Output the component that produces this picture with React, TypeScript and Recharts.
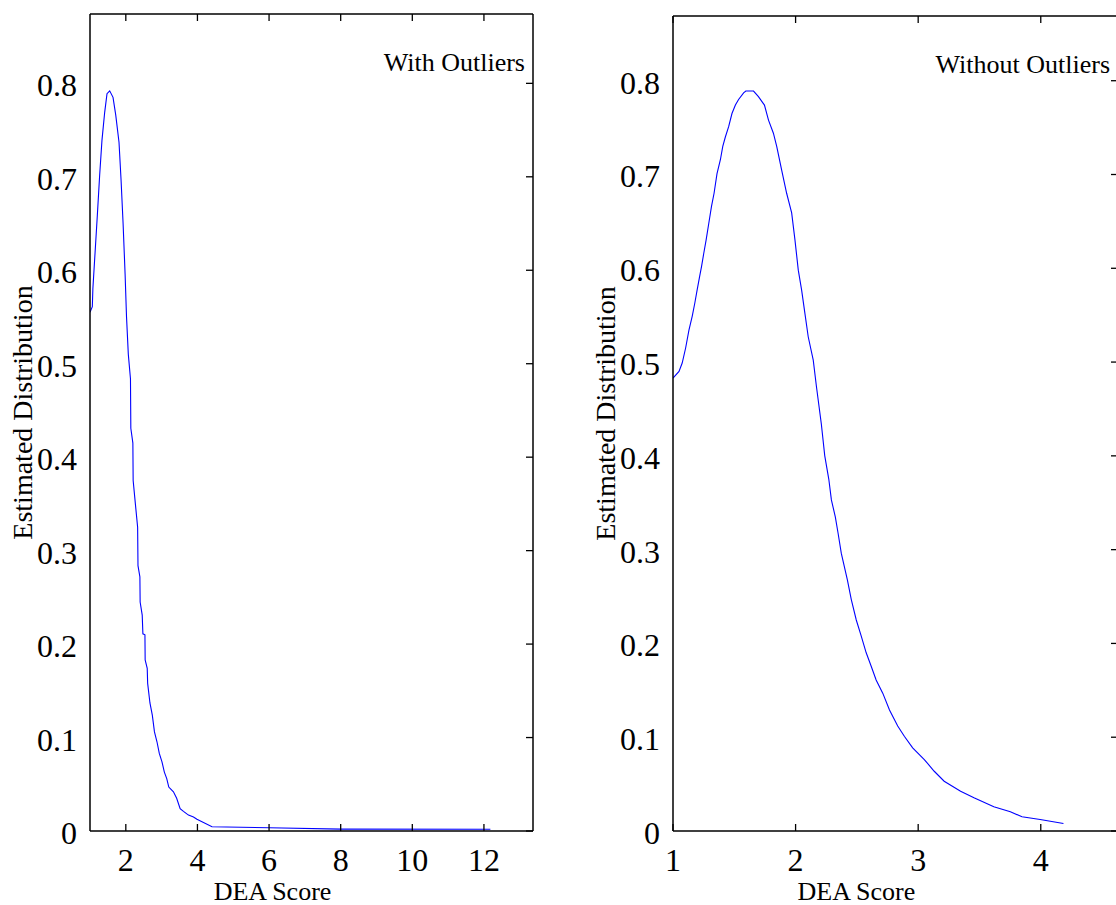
import { LineChart, Line, XAxis, YAxis } from 'recharts'

// DEA score / estimated density
const withOutliersScore = [
  1.0, 1.065, 1.08, 1.14, 1.205, 1.27, 1.334, 1.41, 1.475, 1.55, 1.643, 1.719, 1.81, 1.868, 1.924,
  1.98, 2.02, 2.07, 2.13, 2.14, 2.197, 2.205, 2.267, 2.33, 2.34, 2.393, 2.4, 2.458, 2.477, 2.534,
  2.54, 2.598, 2.61, 2.674, 2.74, 2.8, 2.87, 2.935, 3.01, 3.076, 3.143, 3.2, 3.33, 3.42, 3.517,
  3.61, 3.75, 3.89, 3.986, 4.407, 6.0, 8.01, 12.18,
]
const withOutliersDensity = [
  0.555, 0.561, 0.58, 0.618, 0.659, 0.702, 0.739, 0.769, 0.789, 0.792, 0.785, 0.766, 0.737, 0.696, 0.65,
  0.596, 0.55, 0.51, 0.484, 0.431, 0.415, 0.375, 0.35, 0.325, 0.284, 0.272, 0.245, 0.231, 0.211, 0.21,
  0.183, 0.174, 0.158, 0.137, 0.124, 0.106, 0.0955, 0.083, 0.074, 0.063, 0.056, 0.047, 0.042, 0.035, 0.024,
  0.021, 0.017, 0.015, 0.0125, 0.0046, 0.0035, 0.002, 0.0018,
]

const withoutOutliersScore = [
  1.0, 1.049, 1.075, 1.103, 1.13, 1.157, 1.178, 1.197, 1.217, 1.233, 1.251, 1.27, 1.292, 1.314, 1.335,
  1.359, 1.387, 1.406, 1.427, 1.454, 1.481, 1.509, 1.535, 1.576, 1.594, 1.657, 1.697, 1.746, 1.779, 1.819,
  1.846, 1.886, 1.927, 1.968, 1.995, 2.022, 2.049, 2.076, 2.103, 2.144, 2.17, 2.21, 2.238, 2.271, 2.292,
  2.324, 2.346, 2.373, 2.422, 2.454, 2.495, 2.535, 2.576, 2.616, 2.657, 2.711, 2.766, 2.833, 2.887, 2.955,
  3.05, 3.131, 3.212, 3.346, 3.455, 3.617, 3.752, 3.847, 3.995, 4.185,
]
const withoutOutliersDensity = [
  0.483, 0.49, 0.499, 0.515, 0.534, 0.549, 0.563, 0.577, 0.591, 0.602, 0.616, 0.63, 0.648, 0.666, 0.68,
  0.701, 0.716, 0.73, 0.74, 0.751, 0.765, 0.774, 0.78, 0.787, 0.789, 0.789, 0.783, 0.774, 0.758, 0.744,
  0.73, 0.705, 0.68, 0.659, 0.63, 0.598, 0.577, 0.552, 0.527, 0.502, 0.474, 0.434, 0.4, 0.375, 0.353,
  0.335, 0.318, 0.296, 0.268, 0.247, 0.225, 0.208, 0.19, 0.176, 0.161, 0.147, 0.129, 0.112, 0.101, 0.0887,
  0.0762, 0.0637, 0.0531, 0.0424, 0.0354, 0.0258, 0.0205, 0.0151, 0.0123, 0.008,
]

const leftScoreTicks = [2, 4, 6, 8, 10, 12]
const rightScoreTicks = [1, 2, 3, 4]
const densityTicks = [0, 0.1, 0.2, 0.3, 0.4, 0.5, 0.6, 0.7, 0.8]

const FONT = '"Liberation Serif", "Times New Roman", serif'
const TICK = 7

// bottom tick: inward mark at the bottom, mirrored inward mark at the top frame, label below
function BottomTick({ x, y, payload, plotTop }: any) {
  return (
    <g>
      <line x1={x} x2={x} y1={y} y2={y - TICK} stroke="#000" strokeWidth={1.3} />
      <line x1={x} x2={x} y1={plotTop} y2={plotTop + TICK} stroke="#000" strokeWidth={1.3} />
      <text x={x} y={y + 40} textAnchor="middle" fontSize={32} fontFamily={FONT} fill="#000">
        {payload.value}
      </text>
    </g>
  )
}

function LeftTick({ x, y, payload }: any) {
  return (
    <text x={x - 13} y={y + 13} textAnchor="end" fontSize={32} fontFamily={FONT} fill="#000">
      {payload.value}
    </text>
  )
}

function RightTick({ x, y }: any) {
  return <line x1={x} x2={x - TICK} y1={y} y2={y} stroke="#000" strokeWidth={1.3} />
}

interface PanelProps {
  scores: number[]
  density: number[]
  scoreDomain: [number, number]
  densityMax: number
  scoreTicks: number[]
  title: string
  width: number
  top: number
  right: number
  yAxisWidth: number
}

function Panel({ scores, density, scoreDomain, densityMax, scoreTicks, title, width, top, right, yAxisWidth }: PanelProps) {
  const data = scores.map((s, i) => ({ score: s, density: density[i] }))
  const axisLine = { stroke: '#000', strokeWidth: 1.5 }

  // the mirrored top / right axes are 1px wide, so pull the margins in by one
  return (
    <LineChart width={width} height={905} data={data} margin={{ top: top - 1, right: right - 1, bottom: 0, left: 0 }}>
      <XAxis
        dataKey="score"
        type="number"
        domain={scoreDomain}
        allowDataOverflow
        ticks={scoreTicks}
        interval={0}
        height={74}
        tickSize={0}
        tickMargin={0}
        tickLine={false}
        axisLine={axisLine}
        tick={(p: any) => <BottomTick {...p} plotTop={top} />}
        label={{
          content: ({ viewBox }: any) => (
            <text
              x={viewBox.x + viewBox.width * 0.412}
              y={viewBox.y + 69}
              textAnchor="middle"
              fontSize={26}
              fontFamily={FONT}
              fill="#000"
            >
              DEA Score
            </text>
          ),
        }}
      />
      <XAxis
        xAxisId="top"
        dataKey="score"
        orientation="top"
        type="number"
        domain={scoreDomain}
        allowDataOverflow
        ticks={scoreTicks}
        interval={0}
        height={1}
        tickLine={false}
        tick={false}
        axisLine={axisLine}
        label={{
          content: ({ viewBox }: any) => (
            <text
              x={viewBox.x + viewBox.width - 8}
              y={viewBox.y + 58}
              textAnchor="end"
              fontSize={26}
              fontFamily={FONT}
              fill="#000"
            >
              {title}
            </text>
          ),
        }}
      />
      <YAxis
        type="number"
        domain={[0, densityMax]}
        allowDataOverflow
        ticks={densityTicks}
        interval={0}
        width={yAxisWidth}
        tickSize={0}
        tickMargin={0}
        tickLine={false}
        axisLine={axisLine}
        tick={LeftTick}
        label={{
          content: ({ viewBox }: any) => {
            const lx = viewBox.x + viewBox.width - 58
            const ly = viewBox.y + viewBox.height / 2 - 10
            return (
              <text
                x={lx}
                y={ly}
                transform={`rotate(-90, ${lx}, ${ly})`}
                textAnchor="middle"
                fontSize={28}
                fontFamily={FONT}
                fill="#000"
              >
                Estimated Distribution
              </text>
            )
          },
        }}
      />
      {/* mirrored axis inside the left frame, only for the inward tick marks */}
      <YAxis
        yAxisId="leftTicks"
        orientation="left"
        mirror
        type="number"
        domain={[0, densityMax]}
        allowDataOverflow
        ticks={densityTicks}
        interval={0}
        width={1}
        tickSize={TICK}
        tickLine={{ stroke: '#000', strokeWidth: 1.3 }}
        tick={false}
        axisLine={false}
      />
      <YAxis
        yAxisId="right"
        orientation="right"
        type="number"
        domain={[0, densityMax]}
        allowDataOverflow
        ticks={densityTicks}
        interval={0}
        width={1}
        tickSize={0}
        tickMargin={0}
        tickLine={false}
        axisLine={axisLine}
        tick={RightTick}
      />
      <Line
        type="linear"
        dataKey="density"
        stroke="#0000ff"
        strokeWidth={1.1}
        dot={false}
        isAnimationActive={false}
      />
      {/* invisible copies bound to the helper axes so they get drawn */}
      <Line
        xAxisId="top"
        yAxisId="right"
        type="linear"
        dataKey="density"
        stroke="none"
        dot={false}
        activeDot={false}
        legendType="none"
        isAnimationActive={false}
      />
      <Line
        yAxisId="leftTicks"
        type="linear"
        dataKey="density"
        stroke="none"
        dot={false}
        activeDot={false}
        legendType="none"
        isAnimationActive={false}
      />
    </LineChart>
  )
}

export default function App() {
  return (
    <div
      style={{
        position: 'absolute',
        left: 0,
        top: 0,
        width: 1116,
        height: 905,
        overflow: 'hidden',
        background: '#fff',
      }}
    >
      <div style={{ position: 'absolute', left: 0, top: 0 }}>
        <Panel
          scores={withOutliersScore}
          density={withOutliersDensity}
          scoreDomain={[1, 13.37]}
          densityMax={0.8742}
          scoreTicks={leftScoreTicks}
          title="With Outliers"
          width={560}
          top={14}
          right={27}
          yAxisWidth={90}
        />
      </div>
      <div style={{ position: 'absolute', left: 560, top: 0 }}>
        <Panel
          scores={withoutOutliersScore}
          density={withoutOutliersDensity}
          scoreDomain={[1, 4.63]}
          densityMax={0.869}
          scoreTicks={rightScoreTicks}
          title="Without Outliers"
          width={580}
          top={16}
          right={22}
          yAxisWidth={113}
        />
      </div>
    </div>
  )
}
